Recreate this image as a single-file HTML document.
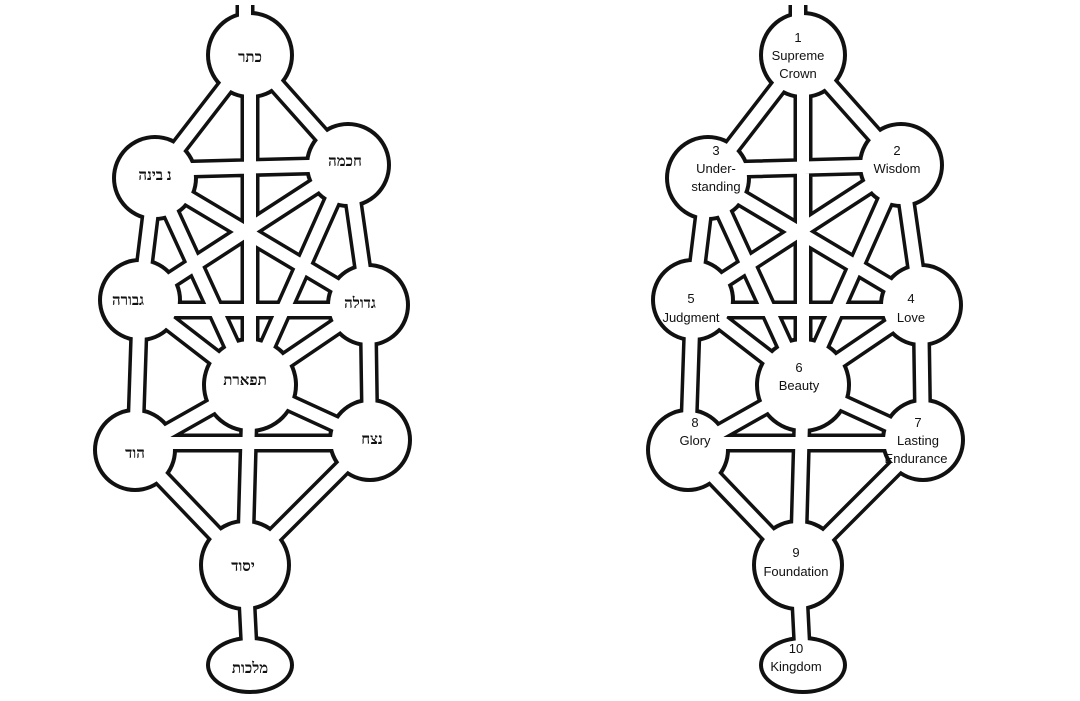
<!DOCTYPE html>
<html><head><meta charset="utf-8"><style>
html,body{margin:0;padding:0;background:#fff;}
svg{display:block;}
text{font-family:"Liberation Sans",sans-serif;font-size:13px;fill:#111;text-anchor:middle;}
.h{font-family:"Liberation Serif","DejaVu Serif",serif;font-size:15px;font-weight:bold;}
</style></head><body>
<svg width="1080" height="701" viewBox="0 0 1080 701">
<defs>
<g id="tree">
 <g stroke="#111" stroke-width="19" fill="none" stroke-linecap="butt">
  <path d="M245 5V55M250 55V385M250 385L245 565M245 565L250 665
  M250 55L155 178M250 55L348 165M155 170L348 165M155 178L140 300M348 165L368 305
  M155 178L250 385M348 165L250 385M155 178L368 305M348 165L140 300M140 310L368 310
  M140 300L250 385M368 305L250 385M140 300L135 450M368 305L370 440M135 443L370 443
  M250 385L135 450M250 385L370 440M135 450L245 565M370 440L245 565"/>
 </g>
 <g fill="#111">
  <circle cx="250" cy="55" r="44"/><circle cx="155" cy="178" r="43"/><circle cx="348" cy="165" r="43"/>
  <circle cx="140" cy="300" r="42"/><circle cx="368" cy="305" r="42"/><circle cx="250" cy="385" r="48"/>
  <circle cx="135" cy="450" r="42"/><circle cx="370" cy="440" r="42"/><circle cx="245" cy="565" r="46"/>
  <ellipse cx="250" cy="665" rx="44" ry="29"/>
 </g>
 <g stroke="#fff" stroke-width="12" fill="none">
  <path d="M245 5V55M250 55V385M250 385L245 565M245 565L250 665
  M250 55L155 178M250 55L348 165M155 170L348 165M155 178L140 300M348 165L368 305
  M155 178L250 385M348 165L250 385M155 178L368 305M348 165L140 300M140 310L368 310
  M140 300L250 385M368 305L250 385M140 300L135 450M368 305L370 440M135 443L370 443
  M250 385L135 450M250 385L370 440M135 450L245 565M370 440L245 565"/>
 </g>
 <g fill="#fff">
  <circle cx="250" cy="55" r="40"/><circle cx="155" cy="178" r="39"/><circle cx="348" cy="165" r="39"/>
  <circle cx="140" cy="300" r="38"/><circle cx="368" cy="305" r="38"/><circle cx="250" cy="385" r="44"/>
  <circle cx="135" cy="450" r="38"/><circle cx="370" cy="440" r="38"/><circle cx="245" cy="565" r="42"/>
  <ellipse cx="250" cy="665" rx="40" ry="25"/>
 </g>
</g>
</defs>
<use href="#tree"/>
<use href="#tree" transform="translate(553,0)"/>
<g class="h">
<text class="h" x="250" y="62">כתר</text>
<text class="h" x="155" y="180">נ בינה</text>
<text class="h" x="345" y="166">חכמה</text>
<text class="h" x="128" y="305">גבורה</text>
<text class="h" x="360" y="308">גדולה</text>
<text class="h" x="245" y="385">תפארת</text>
<text class="h" x="135" y="458">הוד</text>
<text class="h" x="372" y="444">נצח</text>
<text class="h" x="243" y="571">יסוד</text>
<text class="h" x="250" y="673">מלכות</text>
</g>
<text x="798" y="42">1</text><text x="798" y="60">Supreme</text><text x="798" y="78">Crown</text>
<text x="716" y="155">3</text><text x="716" y="173">Under-</text><text x="716" y="191">standing</text>
<text x="897" y="155">2</text><text x="897" y="173">Wisdom</text>
<text x="691" y="303">5</text><text x="691" y="322">Judgment</text>
<text x="911" y="303">4</text><text x="911" y="322">Love</text>
<text x="799" y="372">6</text><text x="799" y="390">Beauty</text>
<text x="695" y="427">8</text><text x="695" y="445">Glory</text>
<text x="918" y="427">7</text><text x="918" y="445">Lasting</text><text x="916" y="463">Endurance</text>
<text x="796" y="557">9</text><text x="796" y="576">Foundation</text>
<text x="796" y="653">10</text><text x="796" y="671">Kingdom</text>
</svg>
</body></html>
